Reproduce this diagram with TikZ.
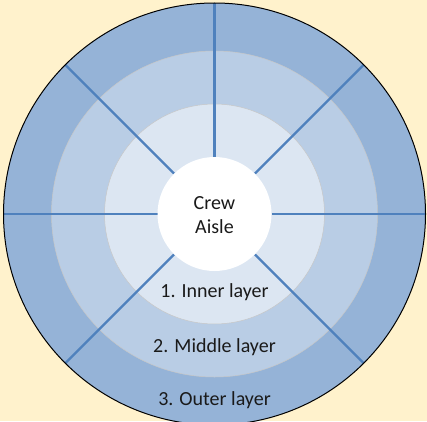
\documentclass[tikz,border=0pt]{standalone}
\usepackage{fontspec}
\setmainfont{Carlito}
\usetikzlibrary{calc}
\definecolor{bgc}{HTML}{FFF2CC}
\definecolor{outerc}{HTML}{95B3D7}
\definecolor{middlec}{HTML}{B9CDE5}
\definecolor{innerc}{HTML}{DCE6F2}
\definecolor{spokec}{HTML}{4F81BD}
\definecolor{txtc}{HTML}{1A1A1A}
\begin{document}
\begin{tikzpicture}[x=1pt,y=1pt,
  ring/.style={draw=black!22, line width=0.5pt},
  spoke/.style={draw=spokec, line width=2.2pt},
  lbl/.style={font=\fontsize{20}{24}\selectfont, text=txtc, anchor=base, inner sep=0pt}]
\fill[bgc] (0,0) rectangle (427,421);
\useasboundingbox (0,0) rectangle (427,421);
\coordinate (c) at (214.5,207);
\begin{scope}
\clip (0,0) rectangle (427,421);
\fill[outerc] (c) circle (211);
\draw[ring, fill=middlec] (c) circle (163);
\draw[ring, fill=innerc] (c) circle (110);
\foreach \a in {0,45,90,135,180,225,315}{
  \draw[spoke] ($(c)+(\a:57)$) -- ($(c)+(\a:211)$);
}
\draw[black, line width=1pt] (c) circle (211);
\end{scope}
\node[circle, fill=white, minimum size=114pt, inner sep=0pt] (aisle) at (c) {};
\node[lbl] (crew) at (214.5,212) {Crew};
\node[lbl] (aislet) at (214.5,188) {Aisle};
\node[lbl] (l1) at (214.5,124) {1. Inner layer};
\node[lbl] (l2) at (214.5,69) {2. Middle layer};
\node[lbl] (l3) at (214.5,16) {3. Outer layer};
\end{tikzpicture}
\end{document}
